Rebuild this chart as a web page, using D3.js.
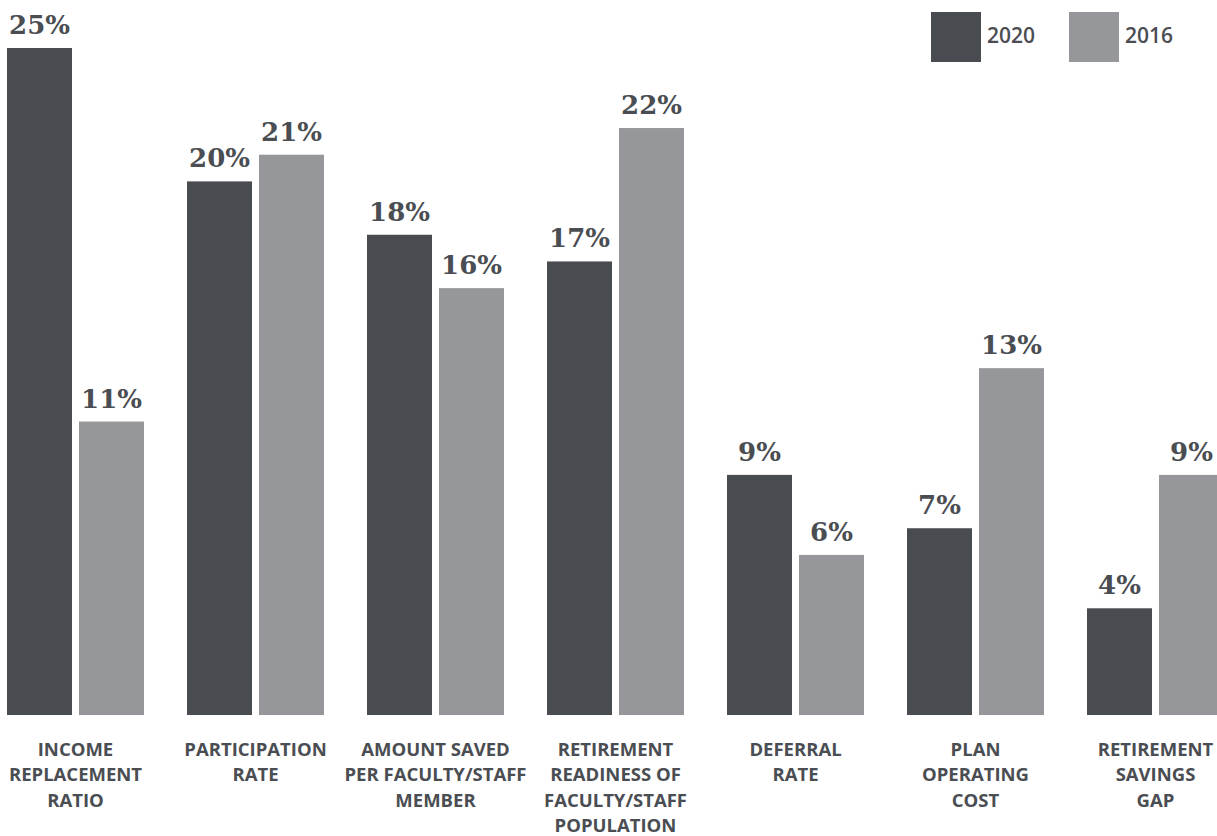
<!DOCTYPE html>
<html>
<head>
<meta charset="utf-8">
<script src="https://cdn.jsdelivr.net/npm/d3@7"></script>
<style>
  html, body { margin: 0; padding: 0; background: #ffffff; }
  svg { display: block; }
</style>
</head>
<body>
<div id="chart"></div>
<script>
// Metrics compared between two survey years
const categories = [
  ["INCOME", "REPLACEMENT", "RATIO"],
  ["PARTICIPATION", "RATE"],
  ["AMOUNT SAVED", "PER FACULTY/STAFF", "MEMBER"],
  ["RETIREMENT", "READINESS OF", "FACULTY/STAFF", "POPULATION"],
  ["DEFERRAL", "RATE"],
  ["PLAN", "OPERATING", "COST"],
  ["RETIREMENT", "SAVINGS", "GAP"]
];
const seriesNames = ["2020", "2016"];
const values2020 = [25, 20, 18, 17, 9, 7, 4];
const values2016 = [11, 21, 16, 22, 6, 13, 9];

const width = 1217, height = 836;
const colors = { "2020": "#484b50", "2016": "#96979b" };
const textColor = "#4a4d52";

const svg = d3.select("#chart").append("svg")
  .attr("width", width).attr("height", height);

const keys = categories.map((c, i) => "c" + i);

const x0 = d3.scaleBand()
  .domain(keys)
  .range([7, 7 + 180 * keys.length - 43])
  .paddingInner(43 / 180)
  .paddingOuter(0);

const x1 = d3.scaleBand()
  .domain(seriesNames)
  .range([0, x0.bandwidth()])
  .paddingInner(7 / 72)
  .paddingOuter(0);

const y = d3.scaleLinear().domain([0, 25]).range([715, 48]);

const rows = keys.map((k, i) => ({
  key: k,
  lines: categories[i],
  vals: [
    { s: "2020", v: values2020[i] },
    { s: "2016", v: values2016[i] }
  ]
}));

const groups = svg.selectAll("g.group").data(rows).join("g")
  .attr("class", "group")
  .attr("transform", d => `translate(${x0(d.key)},0)`);

groups.selectAll("rect").data(d => d.vals).join("rect")
  .attr("x", d => x1(d.s))
  .attr("y", d => y(d.v))
  .attr("width", x1.bandwidth())
  .attr("height", d => y(0) - y(d.v))
  .attr("fill", d => colors[d.s]);

groups.selectAll("text.value").data(d => d.vals).join("text")
  .attr("class", "value")
  .attr("x", d => x1(d.s) + x1.bandwidth() / 2)
  .attr("y", d => y(d.v) - 14)
  .attr("text-anchor", "middle")
  .attr("font-family", "'DejaVu Serif', serif")
  .attr("font-weight", 700)
  .attr("font-size", 26)
  .attr("fill", textColor)
  .text(d => d.v + "%");

// Category labels under each pair of bars
groups.append("text")
  .attr("class", "cat")
  .attr("text-anchor", "middle")
  .attr("font-family", "'Open Sans', sans-serif")
  .attr("font-weight", 700)
  .attr("font-size", 18.5)
  .attr("fill", textColor)
  .selectAll("tspan").data(d => d.lines).join("tspan")
  .attr("x", x0.bandwidth() / 2)
  .attr("y", (d, i) => 756 + i * 25.3)
  .text(d => d);

// Legend
const legendX = { "2020": 931, "2016": 1069 };
const legend = svg.selectAll("g.legend").data(seriesNames).join("g")
  .attr("class", "legend")
  .attr("transform", d => `translate(${legendX[d]},12)`);
legend.append("rect")
  .attr("width", 50).attr("height", 50)
  .attr("fill", d => colors[d]);
legend.append("text")
  .attr("x", 56).attr("y", 31)
  .attr("font-family", "'Open Sans', sans-serif")
  .attr("font-weight", 600)
  .attr("font-size", 21)
  .attr("fill", textColor)
  .text(d => d);
</script>
</body>
</html>
